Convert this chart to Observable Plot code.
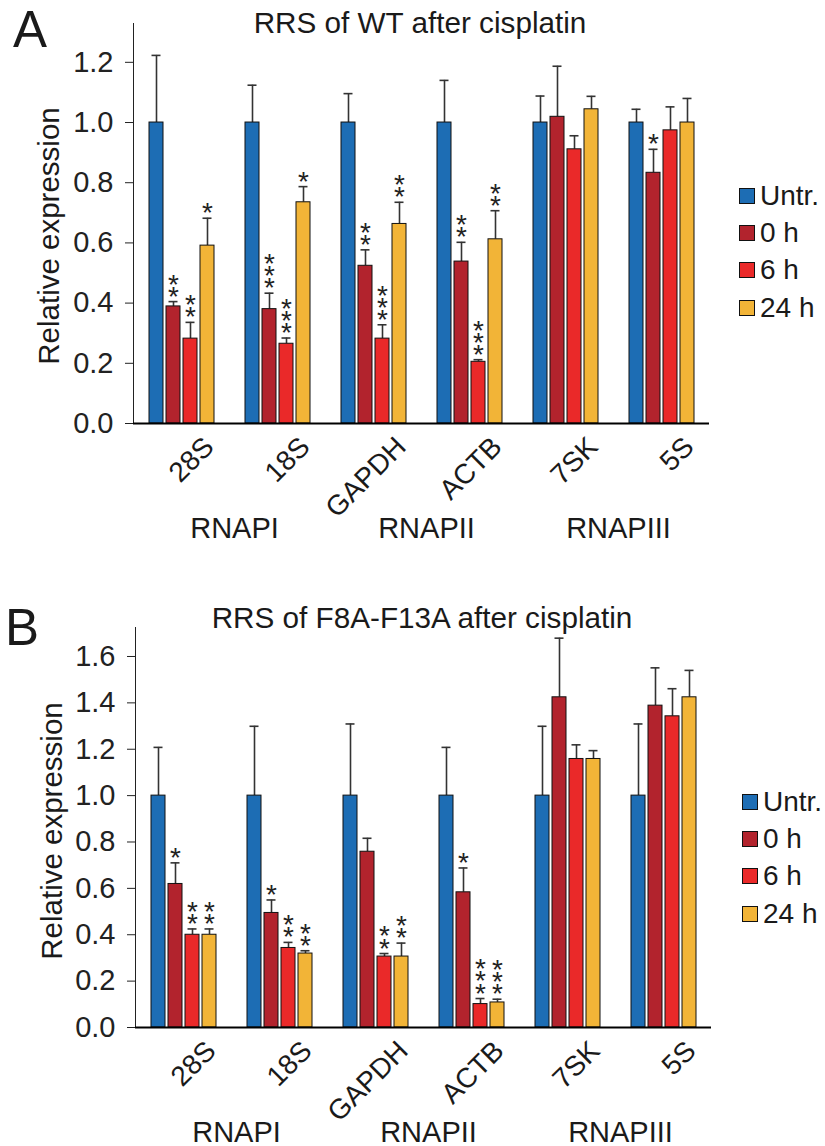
<!DOCTYPE html>
<html><head><meta charset="utf-8">
<script src="https://cdn.jsdelivr.net/npm/d3@7"></script>
<script src="https://cdn.jsdelivr.net/npm/@observablehq/plot@0.6"></script>
<style>
body{margin:0;background:#fff;font-family:"Liberation Sans",Arial,sans-serif;color:#1a1a1a;}
#page{position:relative;width:825px;height:1146px;overflow:hidden;background:#fff;}
.abs{position:absolute;}
.letter{font-size:51px;line-height:51px;}
.title{font-size:29.7px;line-height:30px;width:840px;text-align:center;white-space:nowrap;}
.ylab{font-size:29.5px;line-height:30px;white-space:nowrap;transform:translate(-50%,-50%) rotate(-90deg);}
.leg{font-size:28px;}
.leg .row{height:37.3px;display:flex;align-items:center;white-space:nowrap;}
.leg .sw{width:14px;height:14px;border:1px solid #111;margin-right:5px;flex:none;}
</style></head><body><div id="page"></div>
<script>
// ---- categories ----
const genes = ["28S","18S","GAPDH","ACTB","7SK","5S"];
const polymerases = ["RNAPI","RNAPII","RNAPIII"];
const conditions = ["Untr.","0 h","6 h","24 h"];
const colors = ["#1d6db4","#b2232d","#ea2929","#f2b437"];

// ---- Panel A: WT ----
const wtUntr    = [1.000,1.000,1.000,1.000,1.000,1.000];
const wtUntrErr = [0.223,0.124,0.096,0.140,0.088,0.044];
const wt0h      = [0.389,0.380,0.524,0.538,1.019,0.833];
const wt0hErr   = [0.016,0.053,0.053,0.064,0.168,0.078];
const wt6h      = [0.282,0.265,0.282,0.205,0.911,0.974];
const wt6hErr   = [0.054,0.019,0.046,0.007,0.045,0.078];
const wt24h     = [0.591,0.735,0.663,0.612,1.044,1.000];
const wt24hErr  = [0.091,0.052,0.072,0.095,0.043,0.080];
const wtSig0h   = ["**","***","**","**","","*"];
const wtSig6h   = ["**","***","***","***","",""];
const wtSig24h  = ["*","*","**","**","",""];
const wtTicks   = [0,0.2,0.4,0.6,0.8,1.0,1.2];

// ---- Panel B: F8A-F13A ----
const mutUntr    = [1.000,1.000,1.000,1.000,1.000,1.000];
const mutUntrErr = [0.208,0.299,0.309,0.208,0.299,0.309];
const mut0h      = [0.619,0.494,0.758,0.583,1.424,1.388];
const mut0hErr   = [0.091,0.056,0.058,0.105,0.255,0.163];
const mut6h      = [0.400,0.343,0.306,0.101,1.158,1.342];
const mut6hErr   = [0.025,0.024,0.013,0.024,0.061,0.119];
const mut24h     = [0.400,0.319,0.306,0.108,1.158,1.424];
const mut24hErr  = [0.025,0.012,0.058,0.014,0.036,0.116];
const mutSig0h   = ["*","*","","*","",""];
const mutSig6h   = ["**","**","**","***","",""];
const mutSig24h  = ["**","**","**","***","",""];
const mutTicks   = [0,0.2,0.4,0.6,0.8,1.0,1.2,1.4,1.6];

function buildRows(vals, errs, sigs){
  const rows = [];
  genes.forEach((g,i)=>{
    conditions.forEach((c,j)=>{
      rows.push({gene:g, condition:c, value:vals[j][i], err:errs[j][i], sig:(sigs[j]||[])[i]||""});
    });
  });
  return rows;
}
const wtRows = buildRows([wtUntr,wt0h,wt6h,wt24h],[wtUntrErr,wt0hErr,wt6hErr,wt24hErr],[null,wtSig0h,wtSig6h,wtSig24h]);
const mutRows = buildRows([mutUntr,mut0h,mut6h,mut24h],[mutUntrErr,mut0hErr,mut6hErr,mut24hErr],[null,mutSig0h,mutSig6h,mutSig24h]);

const page = document.getElementById("page");
function add(el, left, top){ el.classList.add("abs"); el.style.left=left+"px"; el.style.top=top+"px"; page.appendChild(el); return el; }
function div(cls, text){ const d=document.createElement("div"); d.className=cls; if(text!=null) d.textContent=text; return d; }

function mainPlot(rows, yMax, ticks, marginLeft, width, marginTop){
  const marginBottom = 122;
  return Plot.plot({
    width, height: marginTop + 400 + marginBottom, marginLeft, marginRight: width-marginLeft-578, marginTop, marginBottom,
    style:{fontFamily:"'Liberation Sans', Arial, sans-serif", fontSize:"29px", color:"#222", background:"transparent", overflow:"visible"},
    fx:{domain:genes, axis:null, paddingInner:0, paddingOuter:0, label:null},
    x:{domain:conditions, axis:null, paddingInner:0.2, paddingOuter:0.85},
    y:{domain:[0,yMax], ticks, tickFormat:d3.format(".1f"), tickSize:8, tickPadding:12, line:true, label:null},
    color:{domain:conditions, range:colors},
    marks:[
      Plot.ruleX(rows,{fx:"gene", x:"condition", y1:"value", y2:d=>d.value+d.err, stroke:"#333", strokeWidth:1.6}),
      Plot.tickY(rows,{fx:"gene", x:"condition", y:d=>d.value+d.err, stroke:"#333", strokeWidth:1.6, insetLeft:2.5, insetRight:2.5}),
      Plot.barY(rows,{fx:"gene", x:"condition", y:"value", fill:"condition", stroke:"#111", strokeWidth:1}),
      Plot.text(rows.filter(d=>d.sig),{fx:"gene", x:"condition", y:d=>d.value+d.err, text:d=>d.sig.split("").join("\n"), lineAnchor:"bottom", lineHeight:0.43, fontSize:28, dy:4, fill:"#222"}),
      Plot.ruleY([0],{stroke:"#000", strokeWidth:2}),
      // gene tick labels (rotated) under each group
      Plot.text(genes,{fx:d=>d, frameAnchor:"bottom", text:d=>d, rotate:-45, textAnchor:"end", lineAnchor:"bottom", dx:34, dy:25, fontSize:28, fill:"#1a1a1a"}),
      // polymerase labels, centred between the two genes of each pair
      Plot.text(polymerases,{fx:(d,i)=>genes[2*i], frameAnchor:"bottom", text:d=>d, lineAnchor:"bottom", dx:53, dy:114, fontSize:29, fill:"#1a1a1a"})
    ]
  });
}

function legend(left, top){
  const L = div("leg");
  conditions.forEach((c,i)=>{
    const r = div("row"); const s = div("sw"); s.style.background = colors[i];
    r.appendChild(s); r.appendChild(document.createTextNode(c)); L.appendChild(r);
  });
  add(L, left, top);
}

// Panel A
add(mainPlot(wtRows, 1.329, wtTicks, 132, 715, 23), 0, 0);
add(div("letter","A"), 13, 4);
add(div("title","RRS of WT after cisplatin"), 0, 8);
add(div("ylab","Relative expression"), 49, 236);
legend(739, 177);

// Panel B
add(mainPlot(mutRows, 1.725, mutTicks, 134, 717, 47), 0, 580);
add(div("letter","B"), 5, 602);
add(div("title","RRS of F8A-F13A after cisplatin"), 2, 603);
add(div("ylab","Relative expression"), 52, 831);
legend(742, 783);
</script></body></html>
